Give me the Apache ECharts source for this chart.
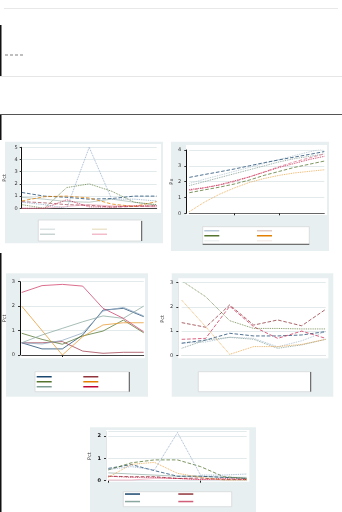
<!DOCTYPE html>
<html><head><meta charset="utf-8">
<script src="https://cdn.jsdelivr.net/npm/echarts@6/dist/echarts.min.js"></script>
<style>html,body{margin:0;padding:0;background:#fff}#c{width:342px;height:512px}</style>
</head><body><div id="c"></div>
<script>
// ---------- data ----------
const cats7 = ['1','2','3','4','5','6','7'];
const cats10 = ['1','2','3','4','5','6','7','8','9','10'];

const yTicks1 = [0,1,2,3,4,5];
const yTicks2 = [0,1,2,3,4];
const yTicks3 = [0,1,2,3];
const yTicks4 = [0,1,2,3];
const yTicks5 = [0,1,2];

// chart 1 (top left)
const c1Navy   = [1.3, 1.0, 0.9, 0.75, 0.8, 1.0, 1.0];
const c1Steel  = [0.5, 0.3, 0.0, 5.0, 0.75, 0.75, 0.6];
const c1Green  = [0.3, 0.0, 1.7, 2.0, 1.4, 0.5, 0.3];
const c1Orange = [0.6, 0.95, 1.0, 0.85, 0.35, 0.15, 0.55];
const c1Cran   = [0.0, 0.0, 0.7, 0.12, 0.1, 0.2, 0.2];
const c1Maroon = [0.55, 0.45, 0.3, 0.25, 0.1, 0.15, 0.2];
const c1Teal   = [0.9, 0.75, 0.55, 0.5, 0.75, 0.5, 0.25];
const c1Pink   = [0.0, 0.0, 0.15, 0.3, 0.2, 0.2, 0.1];

// chart 2 (top right)
const c2Navy   = [2.27, 2.45, 2.62, 2.8, 3.0, 3.2, 3.38, 3.55, 3.72, 3.9];
const c2Gray   = [1.89, 2.15, 2.4, 2.65, 2.9, 3.15, 3.4, 3.65, 3.88, 4.1];
const c2Teal   = [1.75, 2.0, 2.25, 2.5, 2.75, 3.0, 3.25, 3.45, 3.6, 3.75];
const c2Cran   = [1.5, 1.62, 1.8, 2.05, 2.3, 2.6, 2.9, 3.15, 3.4, 3.6];
const c2Pink   = [1.45, 1.6, 1.78, 2.0, 2.3, 2.62, 2.95, 3.25, 3.5, 3.75];
const c2Green  = [1.3, 1.48, 1.65, 1.85, 2.1, 2.4, 2.65, 2.9, 3.1, 3.3];
const c2Orange = [0.1, 0.7, 1.2, 1.6, 1.95, 2.2, 2.4, 2.55, 2.65, 2.75];

// chart 3 (middle left)
const c3Navy   = [0.5, 0.25, 0.25, 0.82, 1.84, 1.91, 1.57];
const c3Maroon = [0.5, 0.5, 0.55, 0.16, 0.07, 0.11, 0.11];
const c3Green  = [0.89, 0.64, 0.44, 0.78, 0.98, 1.43, 0.91];
const c3Orange = [2.0, 1.0, 0.0, 0.75, 1.23, 1.32, 1.32];
const c3Teal   = [0.5, 0.82, 1.09, 1.36, 1.6, 1.5, 2.0];
const c3Cran   = [2.56, 2.84, 2.89, 2.82, 1.91, 1.5, 0.95];
const c3Steel  = [0.5, 0.45, 0.6, 0.9, 1.8, 1.95, 1.6];

// chart 4 (middle right)
const c4Green  = [3.08, 2.42, 1.43, 1.11, 1.11, 1.09, 1.09];
const c4Orange = [2.28, 1.18, 0.04, 0.36, 0.36, 0.45, 0.66];
const c4Cran   = [0.66, 0.7, 2.03, 1.18, 0.7, 1.0, 0.7];
const c4Maroon = [1.35, 1.16, 2.08, 1.25, 1.46, 1.22, 1.9];
const c4Navy   = [0.5, 0.63, 0.91, 0.8, 0.8, 0.84, 0.98];
const c4Teal   = [0.29, 0.63, 0.74, 0.66, 0.29, 0.43, 0.66];
const c4Steel  = [0.5, 0.55, 0.75, 0.7, 0.35, 0.6, 0.98];

// chart 5 (bottom)
const c5Steel  = [0.5, 0.63, 0.48, 2.15, 0.25, 0.25, 0.3];
const c5Green  = [0.48, 0.8, 0.93, 0.93, 0.63, 0.18, 0.1];
const c5Orange = [0.15, 0.73, 0.82, 0.33, 0.15, 0.03, 0.03];
const c5Navy   = [0.55, 0.72, 0.45, 0.2, 0.2, 0.15, 0.1];
const c5Pink   = [0.03, 0.03, 0.1, 0.1, 0.05, 0.05, 0.1];
const c5Cran   = [0.2, 0.15, 0.15, 0.1, 0.05, 0.1, 0.05];
const c5Maroon = [0.2, 0.18, 0.18, 0.1, 0.12, 0.05, 0.05];
const c5Teal   = [0.35, 0.3, 0.25, 0.2, 0.2, 0.15, 0.15];

// ---------- build ----------
const PANEL = '#e8eff1';
function S(name, data, color, type, gi){
  return {name, type:'line', xAxisIndex:gi, yAxisIndex:gi, data, symbol:'none', silent:true,
    animation:false, lineStyle:{color, width:0.9, type, opacity:0.85}, itemStyle:{color}};
}
function yAx(gi, ticks, o){
  return Object.assign({type:'value', gridIndex:gi, min:ticks[0], max:ticks[ticks.length-1],
    interval:ticks[1]-ticks[0],
    axisLine:{show:true, lineStyle:{color:o.lineColor||'#111', width:1}},
    axisTick:{show:true, length:2, lineStyle:{color:'#333'}},
    axisLabel:{fontSize:5, color:'#333', margin:o.margin||5, fontFamily:'DejaVu Sans'},
    splitLine:{show:true, lineStyle:{color:'#e2eaec', width:1}},
    offset:o.offset||0, name:o.name||'', nameLocation:'middle', nameGap:o.nameGap||14,
    nameTextStyle:{fontSize:5, color:'#333'}}, o.extra||{});
}
function xAx(gi, cats, o){
  return {type:'category', gridIndex:gi, data:cats, boundaryGap:false,
    axisLine:{show:true, lineStyle:{color:o.lineColor||'#444', width:1}},
    axisTick:{show:!!o.ticks, length:2, lineStyle:{color:'#222'},
      interval: o.ticks ? (i)=>o.ticks.indexOf(i)>=0 : 'auto'},
    axisLabel:{show:false}, splitLine:{show:false}, offset:o.offset||0};
}
function legend(left, top, names, colors){
  return {left, top, orient:'vertical', padding:0, itemGap:3.5, itemWidth:15, itemHeight:1.5,
    icon:'rect', selectedMode:false, formatter:()=> '', textStyle:{fontSize:1},
    data: names.map((n,i)=>({name:n, itemStyle:{color:colors[i], borderWidth:0}}))};
}

const grids = [
  {left:21.7, top:147.3, width:135, height:61},
  {left:189.3, top:150, width:135, height:63.3},
  {left:21.7, top:281.7, width:122, height:73.3},
  {left:181.7, top:282.7, width:144, height:72.6},
  {left:108.3, top:431.5, width:138.4, height:49.2}
];

const graphic = [
  // top separators
  {type:'line', shape:{x1:4,y1:8.5,x2:338,y2:8.5}, style:{stroke:'#e8e8e8', lineWidth:1}},
  {type:'rect', shape:{x:0,y:25,width:1.5,height:51}, style:{fill:'#111'}},
  {type:'line', shape:{x1:5,y1:55,x2:23,y2:55}, style:{stroke:'#aaaaaa', lineWidth:1.3, lineDash:[3,2]}},
  {type:'line', shape:{x1:0,y1:76.5,x2:342,y2:76.5}, style:{stroke:'#e6e6e6', lineWidth:1}},
  {type:'line', shape:{x1:0,y1:114.5,x2:342,y2:114.5}, style:{stroke:'#555', lineWidth:1.2}},
  {type:'rect', shape:{x:0,y:115,width:1.5,height:25}, style:{fill:'#111'}},
  {type:'rect', shape:{x:0,y:253,width:1.5,height:259}, style:{fill:'#111'}},
  // panels
  {type:'rect', z:-10, shape:{x:5,y:141.7,width:158,height:101.5}, style:{fill:PANEL}},
  {type:'rect', z:-10, shape:{x:171,y:141.7,width:158,height:109.3}, style:{fill:PANEL}},
  {type:'rect', z:-10, shape:{x:6,y:273.3,width:142,height:123.4}, style:{fill:PANEL}},
  {type:'rect', z:-10, shape:{x:171.7,y:273.3,width:161.6,height:123.4}, style:{fill:PANEL}},
  {type:'rect', z:-10, shape:{x:90,y:427.3,width:166,height:84.7}, style:{fill:PANEL}},
  // plot regions
  {type:'rect', z:-9, shape:{x:20,y:144,width:141,height:69}, style:{fill:'#fff'}},
  {type:'rect', z:-9, shape:{x:186,y:145,width:141,height:70}, style:{fill:'#fff'}},
  {type:'rect', z:-9, shape:{x:20,y:278.3,width:125,height:80}, style:{fill:'#fff'}},
  {type:'rect', z:-9, shape:{x:178.3,y:278.3,width:150,height:80}, style:{fill:'#fff'}},
  {type:'rect', z:-9, shape:{x:106,y:430,width:143.3,height:51.7}, style:{fill:'#fff'}},
  // legend boxes
  {type:'rect', z:-8, shape:{x:38.3,y:220,width:103.4,height:21}, style:{fill:'#fff', stroke:'#d4d8d8', lineWidth:0.8}},
  {type:'line', shape:{x1:141.7,y1:221,x2:141.7,y2:241}, style:{stroke:'#555', lineWidth:1}},
  {type:'rect', z:-8, shape:{x:202.7,y:226.7,width:106.6,height:17.6}, style:{fill:'#fff', stroke:'#d4d8d8', lineWidth:0.8}},
  {type:'line', shape:{x1:202.7,y1:244.3,x2:309.3,y2:244.3}, style:{stroke:'#555', lineWidth:1}},
  {type:'rect', z:-8, shape:{x:35,y:371.7,width:94.3,height:20}, style:{fill:'#fff', stroke:'#d4d8d8', lineWidth:0.8}},
  {type:'line', shape:{x1:129.3,y1:372,x2:129.3,y2:391.7}, style:{stroke:'#555', lineWidth:1}},
  {type:'rect', z:-8, shape:{x:198.3,y:371.7,width:112.4,height:20}, style:{fill:'#fff', stroke:'#d4d8d8', lineWidth:0.8}},
  {type:'line', shape:{x1:310.7,y1:372,x2:310.7,y2:391.7}, style:{stroke:'#555', lineWidth:1}},
  {type:'rect', z:-8, shape:{x:123.3,y:491.7,width:108.4,height:15}, style:{fill:'#fff', stroke:'#d4d8d8', lineWidth:0.8}}
].map(g=>Object.assign({silent:true}, g));

const series = [
  // chart 1
  S('a1', c1Teal, '#a8bcb6', 'solid', 0),
  S('a2', c1Pink, '#eeb0c2', 'solid', 0),
  S('a3', c1Maroon, '#a8505e', 'dashed', 0),
  S('a4', c1Navy, '#1a476f', 'dashed', 0),
  S('a5', c1Orange, '#e37e00', 'dashed', 0),
  S('a6', c1Green, '#55752f', 'dotted', 0),
  S('a7', c1Cran, '#c10534', 'dotted', 0),
  S('a8', c1Steel, '#7f9cc0', 'dotted', 0),
  // chart 2
  S('b1', c2Gray, '#a6bcc6', 'dotted', 1),
  S('b2', c2Teal, '#6e8e84', 'dotted', 1),
  S('b3', c2Navy, '#1a476f', 'dashed', 1),
  S('b4', c2Pink, '#e07a95', 'dashed', 1),
  S('b5', c2Cran, '#c10534', 'dotted', 1),
  S('b6', c2Green, '#55752f', 'dashed', 1),
  S('b7', c2Orange, '#e89a30', 'dotted', 1),
  // chart 3
  S('c1', c3Navy, '#1a476f', 'solid', 2),
  S('c2', c3Maroon, '#a04050', 'solid', 2),
  S('c3', c3Green, '#55752f', 'solid', 2),
  S('c4', c3Orange, '#e89a30', 'solid', 2),
  S('c5', c3Teal, '#8aa8a0', 'solid', 2),
  S('c6', c3Cran, '#d0406a', 'solid', 2),
  S('c7', c3Steel, '#90a8c2', 'solid', 2),
  // chart 4
  S('d1', c4Steel, '#9ab0c4', 'dotted', 3),
  S('d2', c4Teal, '#6e8e84', 'dotted', 3),
  S('d3', c4Navy, '#1a476f', 'dashed', 3),
  S('d4', c4Maroon, '#90353b', 'dashed', 3),
  S('d5', c4Cran, '#d0305a', 'dashed', 3),
  S('d6', c4Orange, '#e89a30', 'dotted', 3),
  S('d7', c4Green, '#55752f', 'dotted', 3),
  // chart 5
  S('e1', c5Teal, '#9ab4ac', 'solid', 4),
  S('e2', c5Pink, '#eea8bc', 'solid', 4),
  S('e3', c5Maroon, '#90353b', 'dashed', 4),
  S('e4', c5Cran, '#c10534', 'dotted', 4),
  S('e5', c5Navy, '#1a476f', 'dashed', 4),
  S('e6', c5Orange, '#e89a30', 'dotted', 4),
  S('e7', c5Green, '#55752f', 'dashed', 4),
  S('e8', c5Steel, '#7f9cc0', 'dotted', 4)
];

const option = {
  backgroundColor:'#ffffff',
  animation:false,
  textStyle:{fontFamily:'DejaVu Sans'},
  graphic: {elements: graphic},
  grid: grids.map(g=>Object.assign({containLabel:false}, g)),
  xAxis: [
    xAx(0, cats7, {offset:3.4, lineColor:'#444'}),
    xAx(1, cats10, {offset:1.7, lineColor:'#666', ticks:[3,6]}),
    xAx(2, cats7, {offset:3, lineColor:'#444', ticks:[2]}),
    xAx(3, cats7, {offset:3, lineColor:'#e0e6e8'}),
    xAx(4, cats7, {offset:1, lineColor:'#e0e6e8', ticks:[0,4]})
  ],
  yAxis: [
    yAx(0, yTicks1, {margin:4, name:'Pct', nameGap:14}),
    yAx(1, yTicks2, {offset:3, margin:5, name:'Px', nameGap:11}),
    yAx(2, yTicks3, {offset:1.7, margin:5, name:'Pct', nameGap:13}),
    yAx(3, yTicks4, {offset:3.4, margin:5, lineColor:'#e0e6e8', name:'Pct', nameGap:13}),
    Object.assign(yAx(4, yTicks5, {offset:2.3, margin:5, lineColor:'#e0e6e8', name:'Pct', nameGap:14}),
      {max:2.2, axisLabel:{fontSize:5, color:'#111', fontWeight:'bold', margin:5, showMaxLabel:false}})
  ],
  legend: [
    legend(40, 228.5, ['a1','a2'], ['#dde4e4','#c8d4d4']),
    legend(92, 228.5, ['a3','a4'], ['#ece4cc','#f2bccb']),
    legend(204.3, 230, ['b1','b6','b2'], ['#b8c8d8','#55752f','#eef1f1']),
    legend(257, 230, ['b4','b7','b5'], ['#e2cac4','#e37e00','#f5eeea']),
    legend(36.7, 376, ['c1','c3','c5'], ['#1a476f','#55752f','#7f9f96']),
    legend(83.3, 376, ['c2','c4','c6'], ['#90353b','#e37e00','#c10534']),
    Object.assign(legend(125, 493.3, ['e5','e1'], ['#1a476f','#8aa8a0']), {itemGap:6}),
    Object.assign(legend(178.3, 493.3, ['e3','e2'], ['#90353b','#d0607a']), {itemGap:6})
  ],
  series
};
const chart = echarts.init(document.getElementById('c'), null, {renderer:'canvas', width:342, height:512});
chart.setOption(option);
</script></body></html>
